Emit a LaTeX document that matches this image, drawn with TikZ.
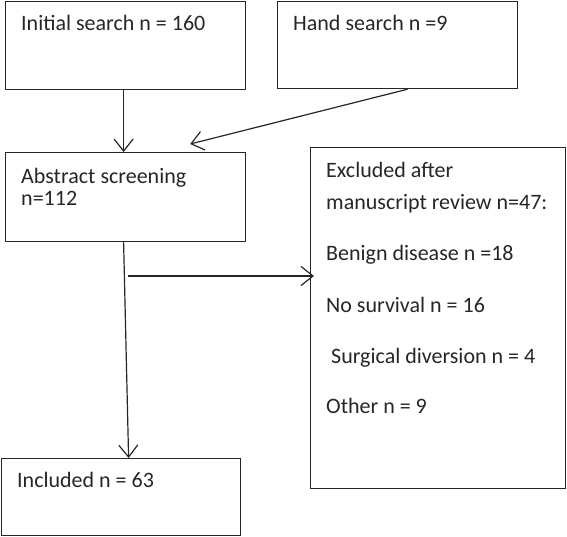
\documentclass[tikz,border=0pt]{standalone}
\usepackage{fontspec}
\setmainfont{Carlito}
\usetikzlibrary{arrows.meta,calc}
\begin{document}
\begin{tikzpicture}[x=1pt,y=-1pt,
  box/.style={draw=black!85,line width=1.2pt,rectangle,inner sep=0pt,anchor=north west},
  txt/.style={anchor=base west,inner sep=0pt,font=\fontsize{22}{30}\selectfont,text=black!85},
  conn/.style={draw=black!85,line width=1.2pt,-{Straight Barb[length=12pt,width=19pt,line width=1.2pt]}},
  plain/.style={draw=black!85,line width=1.2pt}]
\useasboundingbox (0,0) rectangle (567,536);
\node[box,minimum width=240pt,minimum height=88pt] (init) at (5,1) {};
\node[box,minimum width=240pt,minimum height=87pt] (hand) at (277,1) {};
\node[box,minimum width=240pt,minimum height=89pt] (abs) at (5,152) {};
\node[box,minimum width=255pt,minimum height=341pt] (excl) at (310,147) {};
\node[box,minimum width=239pt,minimum height=77pt] (inc) at (1,458) {};
\node[txt] (t1) at (21,30) {Initial search n = 160};
\node[txt] (t2) at (293,30) {Hand search n =9};
\node[txt] (t3) at (21,183) {Abstract screening};
\node[txt] (t4) at (21,205) {n=112};
\node[txt] (t5) at (17,487) {Included n = 63};
\node[txt] (e1) at (326,177) {Excluded after};
\node[txt] (e2) at (326,209) {manuscript review n=47:};
\node[txt] (e3) at (326,260) {Benign disease n =18};
\node[txt] (e4) at (326,312) {No survival n = 16};
\node[txt] (e5) at (331,363) {Surgical diversion n = 4};
\node[txt] (e6) at (326,413) {Other n = 9};
\draw[conn] ([xshift=-2pt]init.south) -- ([xshift=-2pt]abs.north);
\draw[conn] ([xshift=10pt]hand.south) -- ([shift={(-56,-8)}]abs.north east);
\draw[conn] ([xshift=-2pt]abs.south) -- ([xshift=7.5pt]inc.north);
\coordinate (split) at (128,276);
\draw[conn,shorten >=-4pt] (split) -- (split -| excl.west);
\end{tikzpicture}
\end{document}
